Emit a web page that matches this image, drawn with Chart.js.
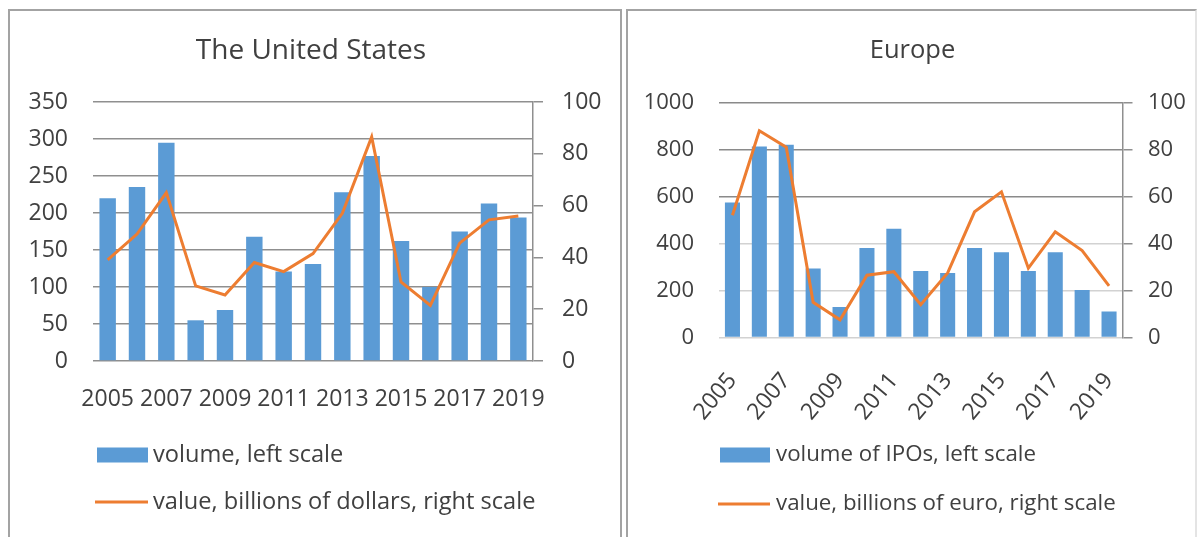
<!DOCTYPE html>
<html><head><meta charset="utf-8">
<script src="https://cdn.jsdelivr.net/npm/chart.js@4.4.1/dist/chart.umd.min.js"></script>
<style>
html,body{margin:0;padding:0;background:#fff;width:1201px;height:537px;overflow:hidden;}
.panel{position:absolute;box-sizing:border-box;}
#pA{left:8px;top:9px;width:614px;height:540px;border:2px solid #a3a3a3;border-bottom:none;}
#pB{left:626px;top:9px;width:571px;height:540px;border:2px solid #a3a3a3;border-bottom:none;border-right-color:#e4e4e4;}
#cA{position:absolute;left:0;top:0;}
#cB{position:absolute;left:624px;top:0;}
</style></head>
<body>
<div class="panel" id="pA"></div>
<div class="panel" id="pB"></div>
<canvas id="cA" width="622" height="537"></canvas>
<canvas id="cB" width="577" height="537"></canvas>
<script>
const years = ['2005','2006','2007','2008','2009','2010','2011','2012','2013','2014','2015','2016','2017','2018','2019'];
const usVolume = [220,235,295,55,69,168,121,131,228,277,162,100,175,213,194];
const usValue = [39,49,65,29,25.5,38,34.5,41.5,57,86.5,30.5,21.5,45.5,54.5,56];
const euVolume = [574,813,820,294,130,381,463,283,274,381,363,283,363,202,111];
const euValue = [52,88,81,15,7.5,26.5,28,14,27.5,53.5,62,29.5,45,37,22];
const usLeftRange = [0,350,50];
const euLeftRange = [0,1000,200];
const rightRange = [0,100,20];

const TEXT = '#404040';
const BAR = '#5B9BD5';
const LINE = '#ED7D31';
Chart.defaults.font.family = '"Open Sans", sans-serif';
Chart.defaults.color = TEXT;

const bottomLegend = {
  id: 'bottomLegend',
  afterDraw(chart, args, o) {
    const ctx = chart.ctx;
    ctx.save();
    ctx.font = o.size + 'px "Open Sans", sans-serif';
    ctx.textBaseline = 'middle';
    ctx.textAlign = 'left';
    chart.data.datasets.forEach((ds, i) => {
      const y = o.rows[i];
      if (ds.type === 'line') {
        ctx.strokeStyle = ds.borderColor; ctx.lineWidth = 3;
        ctx.beginPath(); ctx.moveTo(o.x - 2, y); ctx.lineTo(o.x + o.box, y); ctx.stroke();
      } else {
        ctx.fillStyle = ds.backgroundColor;
        ctx.fillRect(o.x, y - 7.5, o.box, 15);
      }
      ctx.fillStyle = TEXT;
      ctx.fillText(ds.label, o.x + o.box + o.gap, y);
    });
    ctx.restore();
  }
};

function makeChart(id, cfg) {
  return new Chart(document.getElementById(id), {
    type: 'bar',
    plugins: [bottomLegend],
    data: {
      labels: years,
      datasets: [
        { type: 'bar', label: cfg.barLabel, data: cfg.bars, backgroundColor: BAR, yAxisID: 'y', order: 1,
          barPercentage: 0.56, categoryPercentage: 1.0 },
        { type: 'line', label: cfg.lineLabel, data: cfg.line, borderColor: LINE, backgroundColor: LINE,
          borderWidth: 3, pointRadius: 0, tension: 0, yAxisID: 'y1', order: 0 }
      ]
    },
    options: {
      responsive: false,
      animation: false,
      layout: { padding: 0 },
      plugins: {
        legend: { display: false },
        tooltip: { enabled: false },
        title: { display: true, text: cfg.title, color: TEXT,
          font: { size: cfg.titleSize, weight: 'normal' }, padding: { top: cfg.titleTop, bottom: cfg.titleBottom } },
        bottomLegend: cfg.legend
      },
      scales: {
        x: {
          grid: { display: false },
          border: { display: false },
          afterFit: s => { s.height = cfg.xHeight; },
          ticks: { autoSkip: false, maxRotation: cfg.rot, minRotation: cfg.rot, padding: cfg.xPad,
            font: { size: cfg.xTickSize }, color: TEXT,
            callback: function(v, i) { return i % 2 === 0 ? this.getLabelForValue(v) : ''; } }
        },
        y: {
          position: 'left', min: cfg.left[0], max: cfg.left[1],
          afterFit: s => { s.width = cfg.leftW; },
          border: { display: false },
          grid: { drawTicks: false, lineWidth: 1.5, color: cfg.gridColor },
          ticks: { stepSize: cfg.left[2], padding: 25, font: { size: cfg.tickSize }, color: TEXT,
            callback: v => String(v) }
        },
        y1: {
          position: 'right', min: rightRange[0], max: rightRange[1],
          afterFit: s => { s.width = cfg.rightW; },
          border: { display: true, color: '#8f8f8f', width: 1.5 },
          grid: { drawOnChartArea: false, drawTicks: true, tickLength: 10, lineWidth: 1.5, color: '#8f8f8f' },
          ticks: { stepSize: rightRange[2], padding: cfg.rightPad, font: { size: cfg.tickSize }, color: TEXT,
            callback: v => String(v) }
        }
      }
    }
  });
}

makeChart('cA', {
  title: 'The United States',
  barLabel: 'volume, left scale',
  lineLabel: 'value, billions of dollars, right scale',
  bars: usVolume, line: usValue, left: usLeftRange,
  titleSize: 28, titleTop: 34, titleBottom: 34.4,
  leftW: 93, rightW: 89, xHeight: 176,
  rot: 0, xPad: 17, tickSize: 23, xTickSize: 23, rightPad: 19,
  gridColor: '#8f8f8f',
  legend: { x: 97, rows: [455, 502], box: 51, gap: 5, size: 23.6 }
});

makeChart('cB', {
  title: 'Europe',
  barLabel: 'volume of IPOs, left scale',
  lineLabel: 'value, billions of euro, right scale',
  bars: euVolume, line: euValue, left: euLeftRange,
  titleSize: 25.5, titleTop: 35, titleBottom: 36.9,
  leftW: 95, rightW: 78.5, xHeight: 199.5,
  rot: 50, xPad: 22, tickSize: 22, xTickSize: 23, rightPad: 15.5,
  gridColor: ctx => (ctx.tick && ctx.tick.value >= 600) ? '#8a8a8a' : '#d2d2d2',
  legend: { x: 96, rows: [455, 504], box: 50, gap: 6, size: 22.3 }
});
</script>
</body></html>
